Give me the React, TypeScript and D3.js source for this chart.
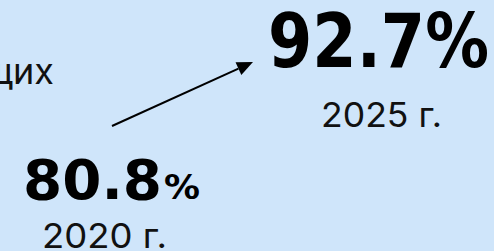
import React from 'react';
import * as d3 from 'd3';

// values
const years = [2020, 2025];
const shares = [80.8, 92.7];
const yearLabels = ['2020 г.', '2025 г.'];
const caption = 'щих';

const W = 494;
const H = 251;
const BG = '#cfe5fa';
const FONT = 'Inter, "Noto Sans", sans-serif';
const BOLD = '"DejaVu Sans", Inter, sans-serif';

export default function App() {
  // x: year -> centre of the label block, y: share -> baseline of the big number
  const x = d3.scaleLinear().domain([2020, 2025]).range([111.5, 378.5]);
  const y = d3.scaleLinear().domain([80.8, 92.7]).range([199, 67]);

  const p0 = { x: x(years[0]), y: y(shares[0]) };
  const p1 = { x: x(years[1]), y: y(shares[1]) };

  // arrow goes from above the 2020 number to the left of the 2025 number
  const a0 = [p0.x + 0.5, p0.y - 73];
  const a1 = [p1.x - 125.5, p1.y - 5];
  const dx = a1[0] - a0[0];
  const dy = a1[1] - a0[1];
  const len = Math.hypot(dx, dy);
  const ux = dx / len;
  const uy = dy / len;
  const hl = 16;
  const hw = 7;
  const base = [a1[0] - ux * hl, a1[1] - uy * hl];
  const head = `M${a1[0]},${a1[1]} L${base[0] - uy * hw},${base[1] + ux * hw} L${base[0] + uy * hw},${base[1] - ux * hw} Z`;

  const big = shares.map((v) => d3.format('.1f')(v));

  return (
    <svg
      width={W}
      height={H}
      style={{ position: 'absolute', left: 0, top: 0, display: 'block' }}
      fontFamily={FONT}
    >
      <rect width={W} height={H} fill={BG} />

      {/* caption, cut off at the left edge */}
      <text x={54} y={84} fontSize={36} textAnchor="end" fill="#111">{caption}</text>

      <line x1={a0[0]} y1={a0[1]} x2={base[0]} y2={base[1]} stroke="#000" strokeWidth={2} />
      <path d={head} fill="#000" />

      {/* 2025 */}
      <text x={p1.x - 110.5} y={p1.y} fontFamily={BOLD} fontSize={74} fontWeight={700} fill="#000"
        textLength={221} lengthAdjust="spacingAndGlyphs">{big[1]}%</text>
      <text x={p1.x - 57.5} y={127} fontSize={34} fill="#111"
        textLength={121} lengthAdjust="spacingAndGlyphs">{yearLabels[1]}</text>

      {/* 2020 */}
      <text x={p0.x - 88.5} y={p0.y} fontFamily={BOLD} fontSize={56} fontWeight={700} fill="#000"
        textLength={139} lengthAdjust="spacingAndGlyphs">{big[0]}</text>
      <text x={p0.x + 52.5} y={p0.y} fontFamily={BOLD} fontSize={34} fontWeight={700} fill="#000"
        textLength={36} lengthAdjust="spacingAndGlyphs">%</text>
      <text x={p0.x - 69.5} y={248} fontSize={34} fill="#111"
        textLength={125} lengthAdjust="spacingAndGlyphs">{yearLabels[0]}</text>
    </svg>
  );
}
